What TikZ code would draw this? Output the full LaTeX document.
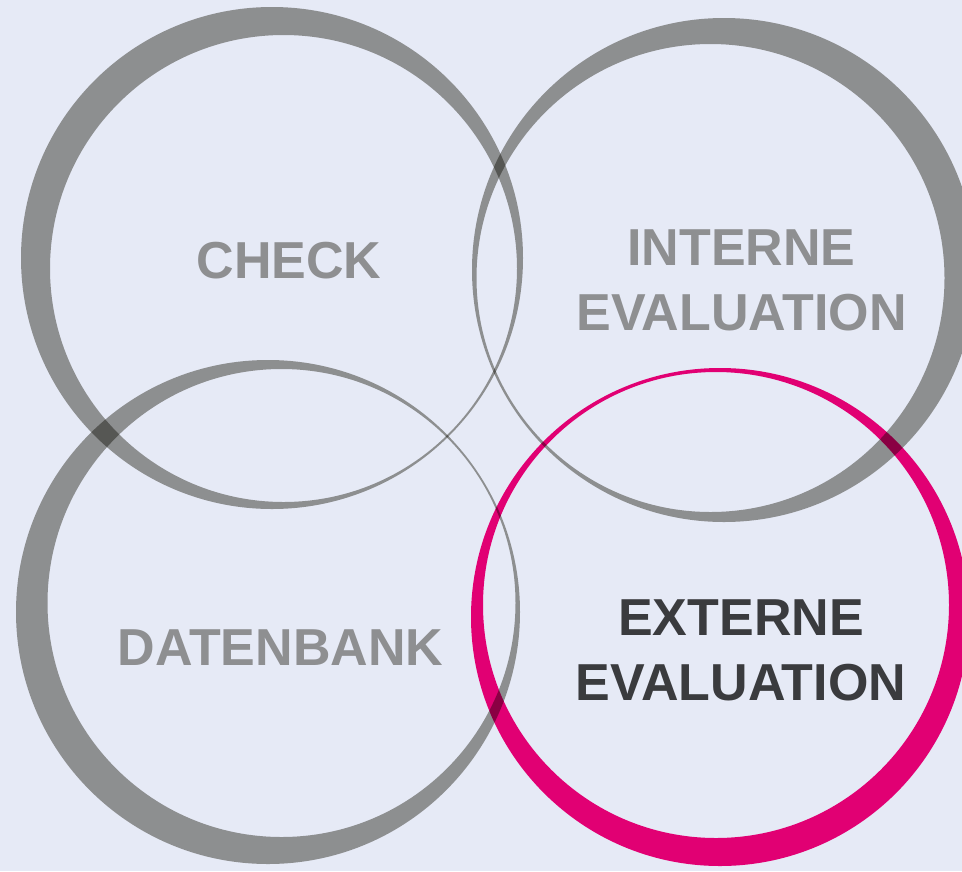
\documentclass[tikz,border=0pt]{standalone}
\usepackage{fontspec}
\setmainfont{Liberation Sans}
\usetikzlibrary{positioning}
\usepackage{xcolor}
\newcommand{\mypx}{1pt}
\tikzset{
    ringsty/.style={fill=ringgray, even odd rule},
    magsty/.style={fill=ringmag, even odd rule},
    lblsty/.style={font=\bfseries\fontsize{52}{65}\selectfont, text=lblgray, inner sep=0pt, align=center, anchor=center},
    hlsty/.style={lblsty, text=lbldark},
}
\definecolor{bgcol}{RGB}{230,234,246}
\definecolor{ringgray}{RGB}{157,156,150}
\definecolor{ringmag}{RGB}{250,0,120}
\definecolor{lblgray}{RGB}{142,143,145}
\definecolor{lbldark}{RGB}{58,59,62}

\begin{document}
\begin{tikzpicture}[x=\mypx, y=-\mypx]

\useasboundingbox (0,0) rectangle (962,871);
\fill[bgcol] (0,0) rectangle (962,871);

\begin{scope}
\clip (0,0) rectangle (962,871);
\begin{scope}[blend mode=multiply]
% check
\fill[ringsty] (272,258) circle [radius=251] (283.5,268.5) circle [radius=233.5];
% interne evaluation
\fill[ringsty] (724,270) circle [radius=252] (710.5,278) circle [radius=234];
% datenbank
\fill[ringsty] (268,612) circle [radius=252] (281.5,603) circle [radius=234];
% externe evaluation
\fill[magsty] (720,617) circle [radius=249] (716,605) circle [radius=233];
\end{scope}
\end{scope}

\node (check) [lblsty] at (289,261) {CHECK};
\node (intev) [lblsty] at (741.5,280) {INTERNE\\EVALUATION};
\node (dbank) [lblsty] at (280.5,647.5) {DATENBANK};
\node (extev) [hlsty] at (741,650.5) {EXTERNE\\EVALUATION};

\end{tikzpicture}
\end{document}
